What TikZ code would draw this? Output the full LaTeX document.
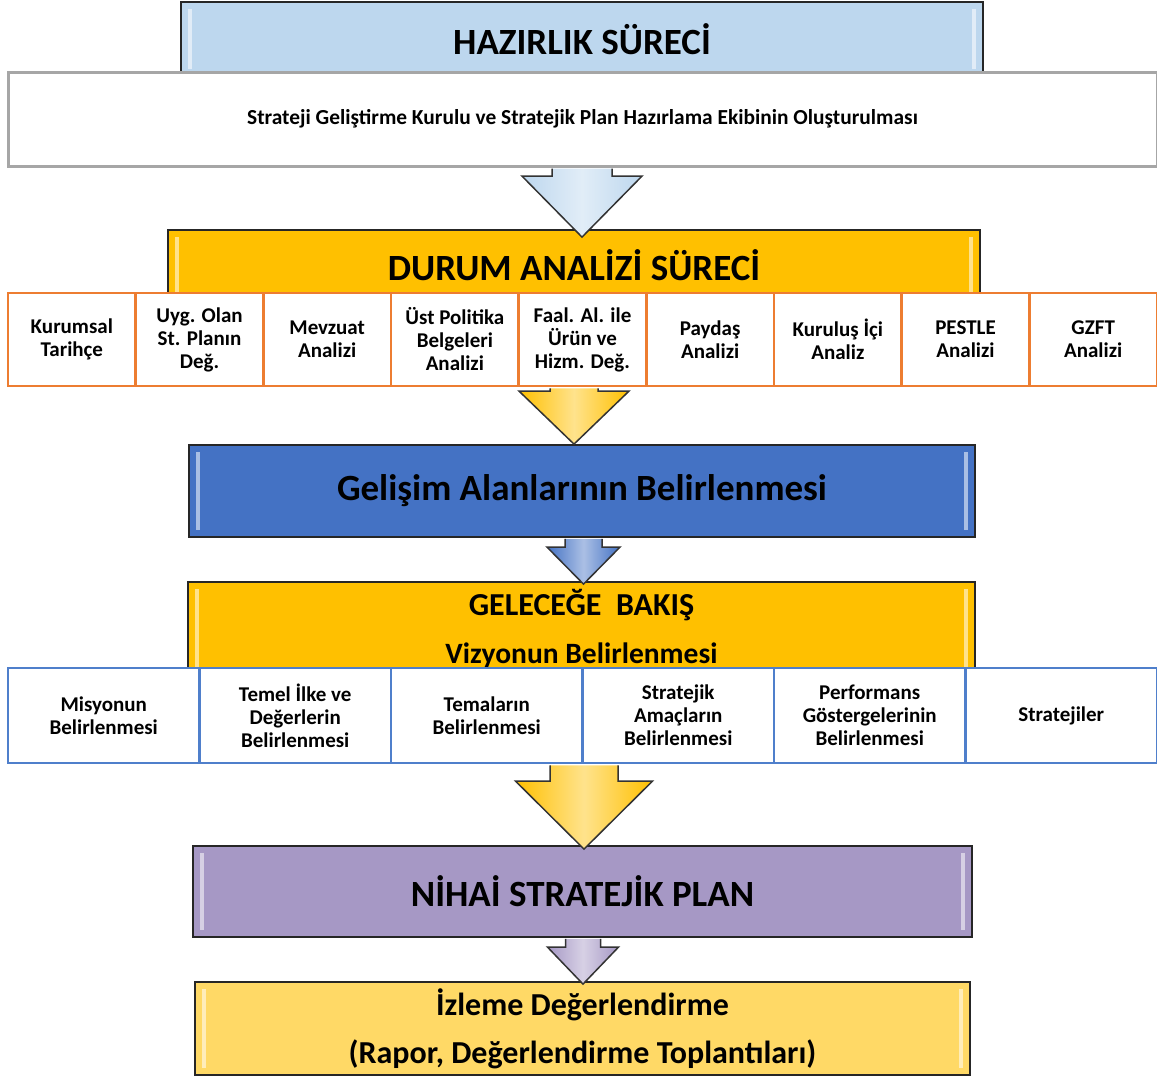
\documentclass[tikz,border=0pt]{standalone}
\usepackage{fontspec}
\setmainfont{Carlito}
\usetikzlibrary{calc}

\definecolor{prepblue}{HTML}{BDD7EE}
\definecolor{sitgold}{HTML}{FFC000}
\definecolor{devblue}{HTML}{4472C4}
\definecolor{planlilac}{HTML}{A698C5}
\definecolor{monyellow}{HTML}{FFD966}
\definecolor{teamgray}{HTML}{A6A6A6}
\definecolor{sitorange}{HTML}{ED7D31}
\definecolor{futblue}{HTML}{4F7FCB}

\begin{document}
\begin{tikzpicture}[x=1pt, y=-1pt,
    bevel/.style={path picture={
        \fill[white, opacity=0.55] ([xshift=7pt, yshift=-7pt]path picture bounding box.north west) rectangle ([xshift=11pt, yshift=7pt]path picture bounding box.south west);
        \fill[white, opacity=0.55] ([xshift=-11pt, yshift=-7pt]path picture bounding box.north east) rectangle ([xshift=-7pt, yshift=7pt]path picture bounding box.south east);
    }},
    phase/.style={draw=black!85, line width=1.8pt, inner sep=0pt, align=center, bevel, font=\bfseries\fontsize{37}{40}\selectfont},
    subphase/.style={phase, font=\bfseries\fontsize{32}{48}\selectfont},
    sitcell/.style={draw=sitorange, line width=2.5pt, fill=white, inner sep=0pt, minimum width=127.67pt, minimum height=93pt, align=center, font=\bfseries\fontsize{21}{23}\selectfont},
    futcell/.style={sitcell, draw=futblue, minimum width=191.5pt, minimum height=95pt},
    gelarrow/.style={draw=black!80, line width=1.5pt, left color=#1, right color=#1, middle color=#1!45!white}
]
    \useasboundingbox (0,0) rectangle (1157,1077);

    \node[phase, fill=prepblue, minimum width=802pt, minimum height=74pt] (prep) at (582,39) {HAZIRLIK SÜRECİ};
    \node[draw=teamgray, line width=3pt, fill=white, minimum width=1149pt, minimum height=94pt, inner sep=0pt, font=\bfseries\fontsize{21.4}{24}\selectfont] (team) at (582.5,119) {Strateji Geliştirme Kurulu ve Stratejik Plan Hazırlama Ekibinin Oluşturulması};

    \node[phase, fill=sitgold, minimum width=812pt, minimum height=70pt] (dur) at (574,265) {DURUM ANALİZİ SÜRECİ};
    \foreach \i/\txt in {1/{Kurumsal\\Tarihçe}, 2/{Uyg. Olan\\St. Planın\\Değ.}, 3/{Mevzuat\\Analizi}, 4/{Üst Politika\\Belgeleri\\Analizi}, 5/{Faal. Al. ile\\Ürün ve\\Hizm. Değ.}, 6/{Paydaş\\Analizi}, 7/{Kuruluş İçi\\Analiz}, 8/{PESTLE\\Analizi}, 9/{GZFT\\Analizi}} {
        \node[sitcell] (a\i) at ({8+(\i-0.5)*127.67},339.5) {\txt};
    }

    \node[phase, fill=devblue, minimum width=786pt, minimum height=92pt] (dev) at (582,491) {Gelişim Alanlarının Belirlenmesi};

    \node[subphase, fill=sitgold, minimum width=787pt, minimum height=94pt] (fut) at (581.5,629) {GELECEĞE~~BAKIŞ\\\fontsize{29.5}{48}\selectfont Vizyonun Belirlenmesi};
    \foreach \i/\txt in {1/{Misyonun\\Belirlenmesi}, 2/{Temel İlke ve\\Değerlerin\\Belirlenmesi}, 3/{Temaların\\Belirlenmesi}, 4/{Stratejik\\Amaçların\\Belirlenmesi}, 5/{Performans\\Göstergelerinin\\Belirlenmesi}, 6/{Stratejiler}} {
        \node[futcell] (b\i) at ({8+(\i-0.5)*191.5},715.5) {\txt};
    }

    \node[phase, fill=planlilac, minimum width=779pt, minimum height=91pt] (fin) at (582.5,891.5) {NİHAİ STRATEJİK PLAN};
    \node[subphase, fill=monyellow, minimum width=775pt, minimum height=93pt] (mon) at (582.5,1028.5) {İzleme Değerlendirme\\(Rapor, Değerlendirme Toplantıları)};

    % block arrows between the stages
    \foreach \src/\dst/\dx/\dy/\w/\h/\l/\c in {team/dur/8/8/30/60/61/prepblue, a5/dev/-8/0/24/55/53/sitgold, dev/fut/2/3/18.5/36.5/37/devblue, b4/fin/1.5/4/34/68.5/68/sitgold, fin/mon/0.5/3/17.5/35.5/37/planlilac} {
        \path[gelarrow=\c] let \p1=([xshift=\dx pt, yshift=-\dy pt]\dst.north), \p2=(\src.south) in
            (\x1-\w, \y2-1) -- (\x1-\w, \y1+\l) -- (\x1-\h, \y1+\l) -- (\x1, \y1) -- (\x1+\h, \y1+\l) -- (\x1+\w, \y1+\l) -- (\x1+\w, \y2-1);
    }
\end{tikzpicture}
\end{document}
